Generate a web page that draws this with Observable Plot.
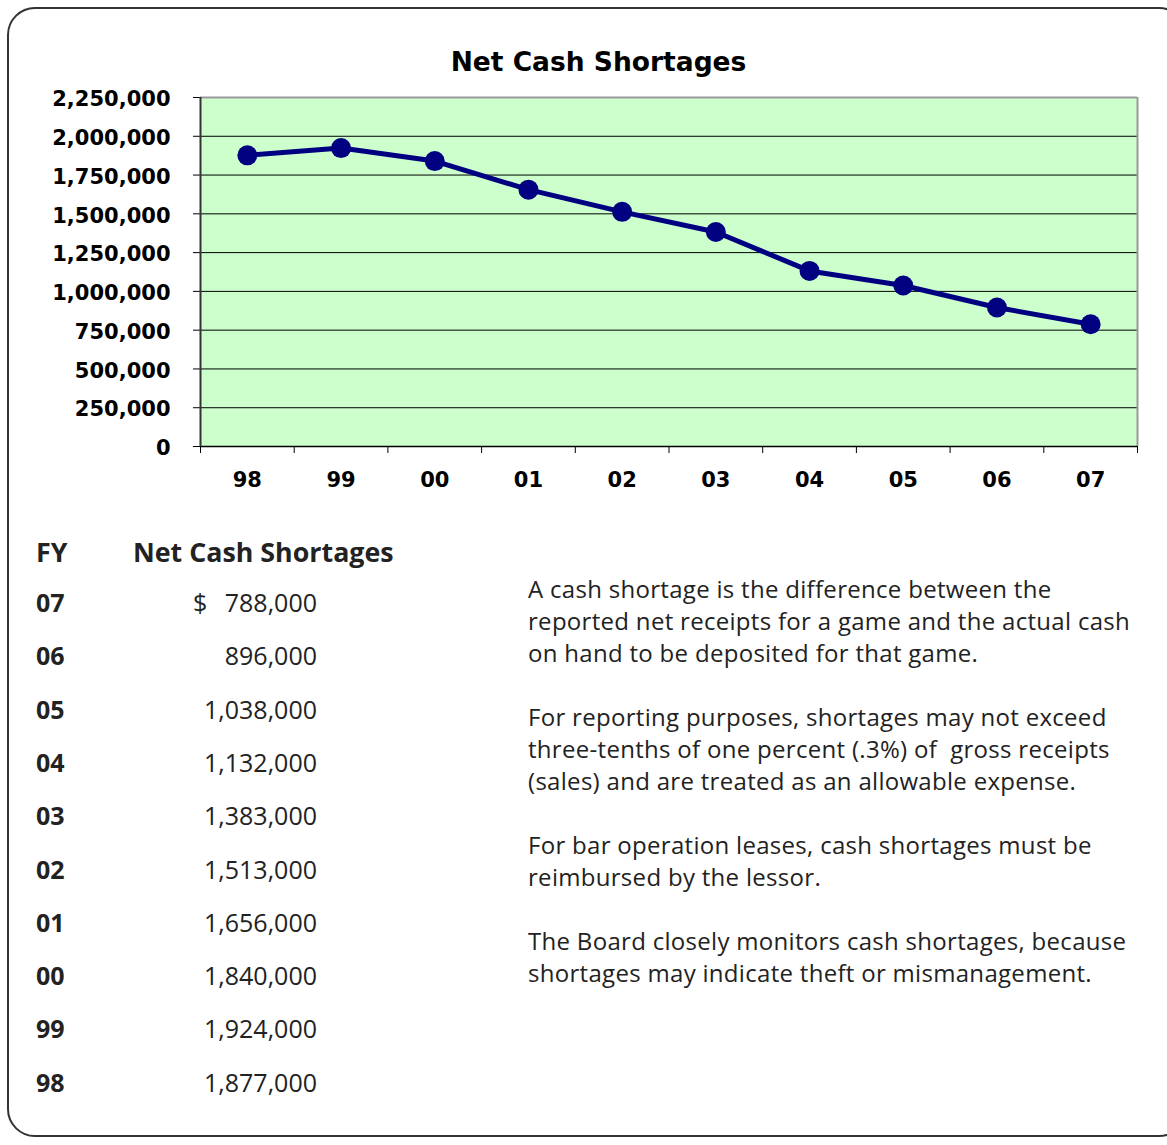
<!DOCTYPE html>
<html>
<head>
<meta charset="utf-8">
<script src="https://cdn.jsdelivr.net/npm/d3@7"></script>
<script src="https://cdn.jsdelivr.net/npm/@observablehq/plot@0.6"></script>
<style>
  html, body { margin: 0; padding: 0; background: #fff; }
  #page { position: relative; width: 1167px; height: 1145px; overflow: hidden; }
  #frame { position: absolute; left: 7px; top: 7px; width: 1180px; height: 1130px;
           border: 2.5px solid #333; border-radius: 28px; box-sizing: border-box; }
  #chart { position: absolute; left: 0; top: 0; }
  #title { position: absolute; left: 0; width: 1197px; top: 46px; text-align: center;
           font-family: "DejaVu Sans", sans-serif; font-weight: bold; font-size: 26.5px; color: #000; }
  .tbl { position: absolute; font-family: "Open Sans", sans-serif; font-size: 25px; color: #222; white-space: pre; line-height: 1; }
  .hdr { font-weight: bold; font-size: 26.8px; }
  .fy { font-weight: bold; font-size: 25px; }
  .amt { text-align: right; }
  #notes { position: absolute; left: 528px; top: 573px; font-family: "Open Sans", sans-serif;
           font-size: 24px; letter-spacing: 0.3px; line-height: 32px; color: #222; white-space: pre; }
</style>
</head>
<body>
<div id="page">
  <div id="frame"></div>
  <div id="chart"></div>
  <div id="title">Net Cash Shortages</div>
  <div id="table"></div>
  <div id="notes"></div>
</div>
<script>
const years = ["98","99","00","01","02","03","04","05","06","07"];
const shortages = [1877000, 1924000, 1840000, 1656000, 1513000, 1383000, 1132000, 1038000, 896000, 788000];
const yTicks = [0, 250000, 500000, 750000, 1000000, 1250000, 1500000, 1750000, 2000000, 2250000];
const chartTitle = "Net Cash Shortages";
const tableHeaders = ["FY", "Net Cash Shortages"];
const notes = [
  "A cash shortage is the difference between the\nreported net receipts for a game and the actual cash\non hand to be deposited for that game.",
  "For reporting purposes, shortages may not exceed\nthree-tenths of one percent (.3%) of  gross receipts\n(sales) and are treated as an allowable expense.",
  "For bar operation leases, cash shortages must be\nreimbursed by the lessor.",
  "The Board closely monitors cash shortages, because\nshortages may indicate theft or mismanagement."
];

const data = years.map((y, i) => ({year: y, pos: i + 0.5, value: shortages[i]}));
const fmt = d3.format(",");

const chart = Plot.plot({
  width: 1167,
  height: 500,
  marginLeft: 200,
  marginRight: 30,
  marginTop: 97,
  marginBottom: 54,
  style: {background: "transparent", fontFamily: "DejaVu Sans, sans-serif", fontWeight: "bold", fontSize: "21px", color: "#000", overflow: "visible"},
  x: {domain: [0, years.length]},
  y: {domain: [0, yTicks[yTicks.length - 1]]},
  marks: [
    Plot.frame({fill: "#ccffcc", stroke: null}),
    Plot.gridY(yTicks, {stroke: "#000", strokeOpacity: 1, strokeWidth: 1}),
    Plot.ruleY([yTicks[yTicks.length - 1]], {stroke: "#999", strokeWidth: 2}),
    Plot.ruleX([years.length], {stroke: "#999", strokeWidth: 2}),
    Plot.axisY({ticks: yTicks, tickFormat: fmt, tickSize: 7, label: null, text: null}),
    Plot.axisY({ticks: yTicks, tickFormat: fmt, tickSize: 0, tickPadding: 30, dy: 2, label: null}),
    Plot.axisX({ticks: d3.range(years.length + 1), tickFormat: () => "", tickSize: 7, label: null}),
    Plot.axisX({ticks: data.map(d => d.pos), tickFormat: (d, i) => years[i], tickSize: 0, tickPadding: 26, label: null}),
    Plot.ruleY([0], {stroke: "#000", strokeWidth: 1.5}),
    Plot.ruleX([0], {stroke: "#333", strokeWidth: 2}),
    Plot.line(data, {x: "pos", y: "value", stroke: "#000080", strokeWidth: 5}),
    Plot.dot(data, {x: "pos", y: "value", r: 10, fill: "#000080", stroke: null})
  ]
});
document.getElementById("chart").appendChild(chart);
document.getElementById("title").textContent = chartTitle;

// table
const table = document.getElementById("table");
function addText(cls, text, left, centerY, right) {
  const el = document.createElement("div");
  el.className = "tbl " + cls;
  el.textContent = text;
  el.style.top = (centerY - 13) + "px";
  if (right !== undefined && right !== null) { el.style.right = (1167 - right) + "px"; }
  else { el.style.left = left + "px"; }
  table.appendChild(el);
  return el;
}
addText("hdr", tableHeaders[0], 36, 552);
addText("hdr", tableHeaders[1], 133, 552);
const rowsDesc = years.map((y, i) => ({year: y, value: shortages[i]})).reverse();
const rowY0 = 603, rowStep = 53.3;
rowsDesc.forEach((r, i) => {
  const cy = rowY0 + i * rowStep;
  addText("fy", r.year, 36, cy);
  addText("amt", fmt(r.value), null, cy, 317);
  if (i === 0) addText("", "$", 193, cy);
});

document.getElementById("notes").textContent = notes.join("\n\n");
</script>
</body>
</html>
